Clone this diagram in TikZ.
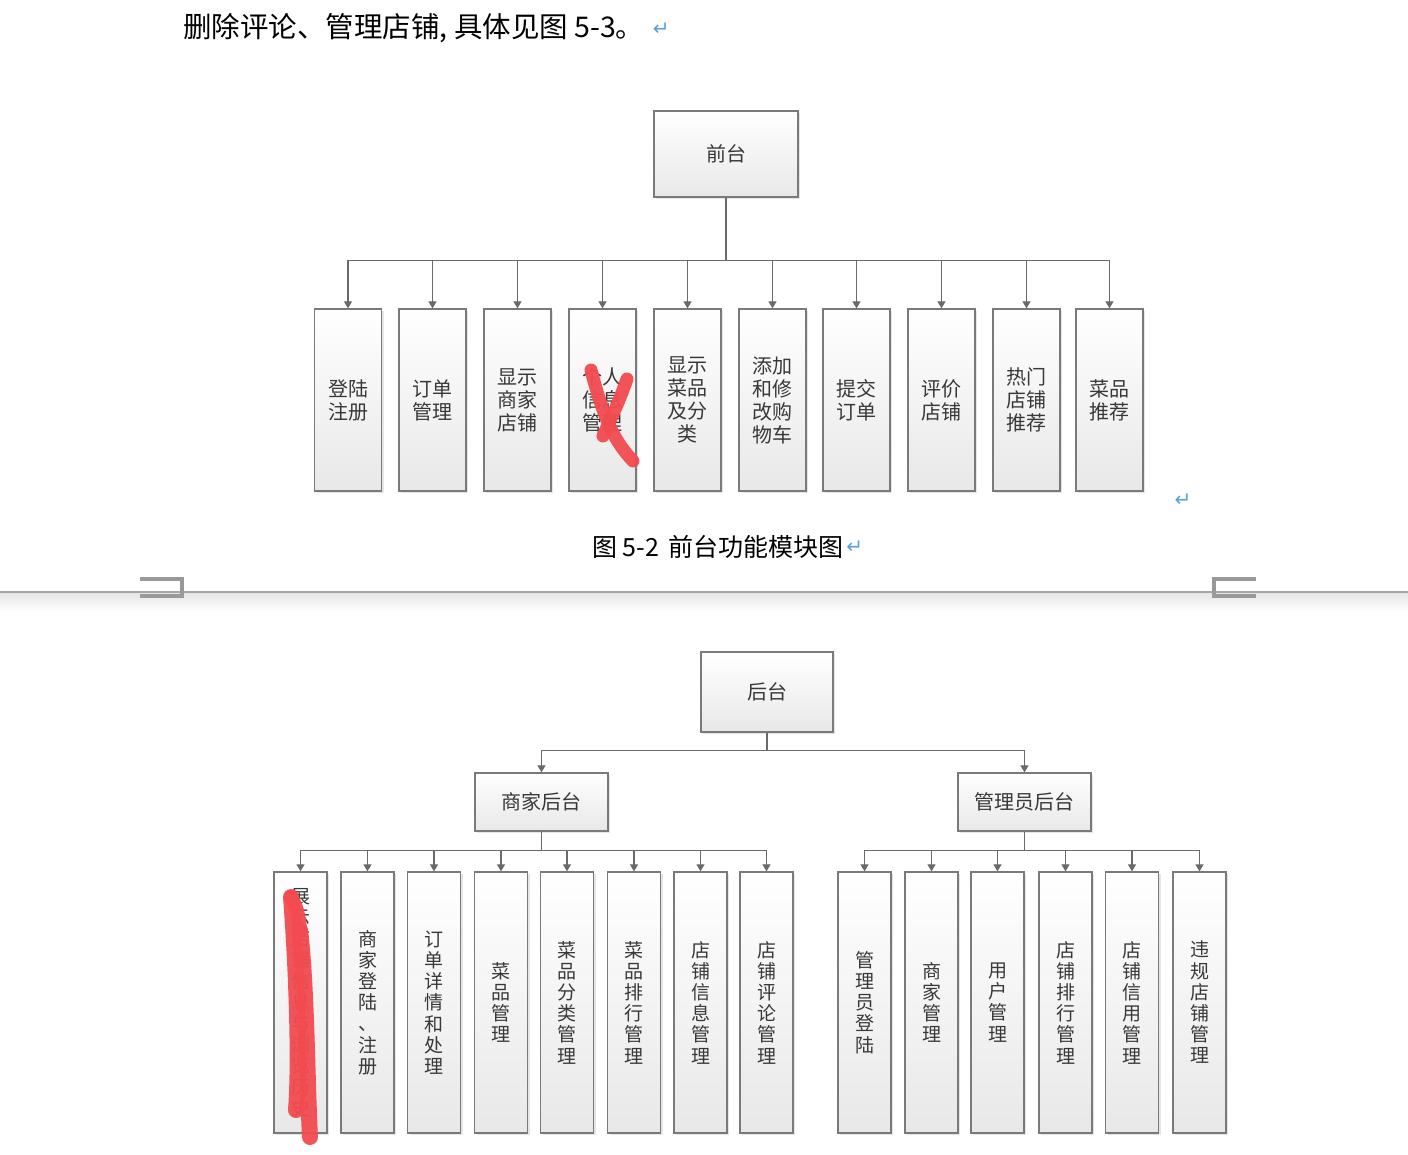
\documentclass[tikz,border=0pt]{standalone}
\usepackage{fontspec}
\newfontfamily\cjk{Noto Sans CJK SC}
\newfontfamily\symf{DejaVu Sans}
\usetikzlibrary{arrows.meta,shadows}
\definecolor{boxline}{HTML}{7A7A7A}
\definecolor{arrline}{HTML}{6A6A6A}
\definecolor{txtgray}{HTML}{383838}
\definecolor{retblue}{HTML}{5AA0E0}
\definecolor{marker}{HTML}{F24B50}
\tikzset{
  fbox/.style={draw=boxline, line width=1.3pt, top color=white, bottom color=black!9,
    drop shadow={shadow xshift=2pt, shadow yshift=-2pt, opacity=0.25, fill=black!40},
    text=txtgray, font=\cjk\fontsize{20}{23}\selectfont, align=center, inner sep=0pt},
  tallbox/.style={fbox, minimum width=67pt, minimum height=182pt},
  narrowbox/.style={fbox, minimum width=53pt, minimum height=261pt, font=\cjk\fontsize{19}{21.2}\selectfont},
  arr/.style={draw=arrline, line width=1.2pt, -{Triangle[width=8pt,length=7pt]}},
  scribble/.style={draw=marker, line cap=round, line join=round, opacity=0.95},
  retmark/.style={text=retblue, font=\symf\fontsize{20}{20}\selectfont, inner sep=0pt}
}
\begin{document}
\begin{tikzpicture}[x=1pt,y=-1pt]
\useasboundingbox (0,0) rectangle (1408,1154);
\fill[white] (0,0) rectangle (1408,1154);

% heading line
\node[anchor=west, inner sep=0pt, font=\cjk\fontsize{28.5}{30}\selectfont, text=black] (head) at (183,28) {删除评论、管理店铺, 具体见图 5-3。};
\node[retmark, anchor=west] (headret) at ([xshift=8pt,yshift=-1pt]head.east) {↵};

% ---------- front end ----------
\node[fbox, minimum width=144pt, minimum height=86pt] (front) at (726,154) {前台};
\node[tallbox] (t1) at (348,400) {登陆\\注册};
\node[tallbox] (t2) at (432.5,400) {订单\\管理};
\node[tallbox] (t3) at (517.5,400) {显示\\商家\\店铺};
\node[tallbox] (t4) at (602.5,400) {个人\\信息\\管理};
\node[tallbox] (t5) at (687.5,400) {显示\\菜品\\及分\\类};
\node[tallbox] (t6) at (772.5,400) {添加\\和修\\改购\\物车};
\node[tallbox] (t7) at (856.5,400) {提交\\订单};
\node[tallbox] (t8) at (941.5,400) {评价\\店铺};
\node[tallbox] (t9) at (1026.5,400) {热门\\店铺\\推荐};
\node[tallbox] (t10) at (1109.5,400) {菜品\\推荐};
\foreach \k in {1,...,10}{
  \draw[arr] (front.south) -- ++(0,63) -| (t\k.north);
}
\node[retmark] (ret2) at (1183,500) {↵};
\node[inner sep=0pt, font=\cjk\fontsize{25}{27}\selectfont, text=black, anchor=west] (cap) at (592,547) {图 5-2 \,前台功能模块图};
\node[retmark, anchor=west] (capret) at ([xshift=2pt]cap.east) {↵};

% red X
\draw[scribble, line width=13pt] (591,370) .. controls (604,420) and (615,442) .. (633,461);
\draw[scribble, line width=13pt] (627,379) .. controls (618,405) and (610,420) .. (603,436);

% ---------- page separator ----------
\shade[top color=black!10, bottom color=white] (0,593) rectangle (1408,612);
\draw[draw=black!35, line width=2pt] (0,592) -- (1408,592);
\draw[draw=black!40, line width=4pt] (140,579) -- (182,579) -- (182,595.5) -- (140,595.5);
\draw[draw=black!40, line width=4pt] (1256,579) -- (1214,579) -- (1214,595.5) -- (1256,595.5);

% ---------- back end ----------
\node[fbox, minimum width=132pt, minimum height=80pt] (back) at (767,692) {后台};
\node[fbox, minimum width=133pt, minimum height=58pt] (merch) at (541.5,802) {商家后台};
\node[fbox, minimum width=133pt, minimum height=58pt] (admin) at (1024.5,802) {管理员后台};
\draw[arr] (back.south) -- ++(0,18) -| (merch.north);
\draw[arr] (back.south) -- ++(0,18) -| (admin.north);

\node[narrowbox, align=center] (b1) at (300.5,1002.5) {展\\示\\店\\铺\\信\\息\\与\\浏\\览\\历\\史};
\node[narrowbox] (b2) at (367.5,1002.5) {商\\家\\登\\陆\\、\\注\\册};
\node[narrowbox] (b3) at (434,1002.5) {订\\单\\详\\情\\和\\处\\理};
\node[narrowbox] (b4) at (501,1002.5) {菜\\品\\管\\理};
\node[narrowbox] (b5) at (567,1002.5) {菜\\品\\分\\类\\管\\理};
\node[narrowbox] (b6) at (634,1002.5) {菜\\品\\排\\行\\管\\理};
\node[narrowbox] (b7) at (700.5,1002.5) {店\\铺\\信\\息\\管\\理};
\node[narrowbox] (b8) at (766.5,1002.5) {店\\铺\\评\\论\\管\\理};
\foreach \k in {1,...,8}{
  \draw[arr] (merch.south) -- ++(0,19) -| (b\k.north);
}

\node[narrowbox] (a1) at (864.5,1002.5) {管\\理\\员\\登\\陆};
\node[narrowbox] (a2) at (931.5,1002.5) {商\\家\\管\\理};
\node[narrowbox] (a3) at (997.5,1002.5) {用\\户\\管\\理};
\node[narrowbox] (a4) at (1065.5,1002.5) {店\\铺\\排\\行\\管\\理};
\node[narrowbox] (a5) at (1132,1002.5) {店\\铺\\信\\用\\管\\理};
\node[narrowbox] (a6) at (1199.5,1002.5) {违\\规\\店\\铺\\管\\理};
\foreach \k in {1,...,6}{
  \draw[arr] (admin.south) -- ++(0,19) -| (a\k.north);
}

% red scribble on first box
\draw[scribble, line width=16pt] (291,897) .. controls (296,960) and (300,1060) .. (296,1110);
\draw[scribble, line width=16pt] (300,930) .. controls (307,990) and (307,1080) .. (310,1137);
\draw[scribble, line width=14pt] (291,897) .. controls (296,905) and (299,915) .. (300,930);
\end{tikzpicture}
\end{document}
